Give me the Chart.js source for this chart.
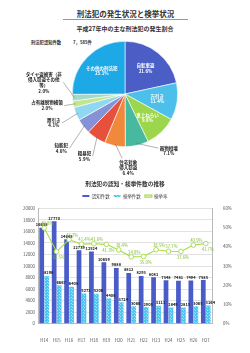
<!DOCTYPE html>
<html lang="ja">
<head>
<meta charset="utf-8">
<script src="https://cdn.jsdelivr.net/npm/chart.js@4.4.1/dist/chart.umd.min.js"></script>
<style>
  body { margin: 0; width: 250px; height: 353px; background: #fff; position: relative; overflow: hidden;
         font-family: "Noto Sans CJK JP", "Noto Sans", sans-serif; color: #333; }
  .t { position: absolute; white-space: nowrap; }
  #mainTitle { left: 63px; width: 125px; top: 9px; text-align: center; font-size: 7.5px; font-weight: bold;
               border-bottom: 1.5px solid #999; line-height: 10px; padding-bottom: 0; }
  #subTitle { left: 0; width: 250px; top: 25px; text-align: center; font-size: 6px; font-weight: bold; line-height: 7px; }
  #total { left: 31px; top: 40px; font-size: 4.3px; font-weight: bold; line-height: 5px; }
  #total span { margin-left: 12px; }
  canvas { position: absolute; left: 0; }
  #pie { top: 0; }
  #trend { top: 175px; }
</style>
</head>
<body>
<div class="t" id="mainTitle">刑法犯の発生状況と検挙状況</div>
<div class="t" id="subTitle">平成27年中の主な刑法犯の発生割合</div>
<div class="t" id="total">刑法犯認知件数<span>7，585件</span></div>
<canvas id="pie" width="250" height="178"></canvas>
<canvas id="trend" width="250" height="178"></canvas>
<script>
const FONT = '"Noto Sans CJK JP", "Noto Sans", sans-serif';

// 発生割合（円グラフ）
const pieLabels = ['自転車盗', '万引き', '車上ねらい', '器物損壊', '住宅対象侵入窃盗', '粗暴犯', '知能犯', '置引き', '占有離脱物横領', 'タイヤ盗被害（非侵入窃盗その他等）', 'その他の刑法犯'];
const pieValues = [21.6, 11.4, 9.8, 7.1, 6.4, 5.9, 4.6, 4.1, 2.0, 2.0, 25.1];
const pieColors = ['#4b5ec6', '#4cc0ea', '#9bd64b', '#47b99e', '#f0893b', '#e5513b', '#8593d6', '#90d8f1', '#c2e68e', '#a2dac7', '#1ca9e6'];

// 認知・検挙件数の推移
const years = ['H14', 'H15', 'H16', 'H17', 'H18', 'H19', 'H20', 'H21', 'H22', 'H23', 'H24', 'H25', 'H26', 'H27'];
const recognized = [16658, 17770, 14648, 12739, 12524, 10659, 9688, 8812, 8293, 8081, 7548, 7481, 7494, 7585];
const arrested = [8296, 6667, 6408, 5272, 5206, 4406, 3724, 3066, 2905, 3111, 2849, 2813, 3065, 3164];
const arrestRate = [49.8, 37.5, 43.7, 41.4, 41.6, 41.3, 38.4, 34.8, 35.0, 38.5, 37.7, 37.6, 40.9, 41.7];
const countTicks = { min: 0, max: 20000, step: 2000 };
const rateTicks = { min: 0, max: 60, step: 10 };

// 円グラフのラベル表示用（改行位置）
const pieText = [
  ['自転車盗'], ['万引き'], ['車上ねらい'], ['器物損壊'], ['住宅対象', '侵入窃盗'], ['粗暴犯'], ['知能犯'],
  ['置引き'], ['占有離脱物横領'], ['タイヤ盗被害（非', '侵入窃盗その他', '等）'], ['その他の刑法犯']
];
// 外側ラベルの位置（半径に対する倍率）と引出線の接続側
const outsidePos = {
  3: [0.83, 1.08, 'l'],
  4: [0.06, 1.40, 't'],
  5: [-0.77, 1.18, 'r'],
  6: [-1.21, 1.03, 'r'],
  7: [-1.35, 0.55, 'r'],
  8: [-1.48, 0.22, 'r'],
  9: [-1.54, -0.22, 'r']
};

const pieLabelPlugin = {
  id: 'pieLabels',
  afterDatasetsDraw(chart) {
    const ctx = chart.ctx;
    const lh = 5.6;
    ctx.save();
    ctx.font = 'bold 4.5px ' + FONT;
    ctx.textAlign = 'center';
    ctx.textBaseline = 'middle';
    chart.getDatasetMeta(0).data.forEach((arc, i) => {
      const p = arc.getProps(['x', 'y', 'startAngle', 'endAngle', 'outerRadius'], true);
      const mid = (p.startAngle + p.endAngle) / 2;
      const lines = pieText[i].concat(pieValues[i].toFixed(1) + '%');
      const op = outsidePos[i];
      let cx, cy;
      if (!op) {
        cx = p.x + Math.cos(mid) * p.outerRadius * 0.62;
        cy = p.y + Math.sin(mid) * p.outerRadius * 0.62;
        ctx.fillStyle = '#fff';
      } else {
        cx = p.x + op[0] * p.outerRadius;
        cy = p.y + op[1] * p.outerRadius;
        const w = Math.max(...lines.map(s => ctx.measureText(s).width));
        const h = lines.length * lh;
        let ex = cx, ey = cy;
        if (op[2] === 'r') { ex = cx + w / 2 + 1.5; }
        if (op[2] === 'l') { ex = cx - w / 2 - 1.5; ey = cy - lh / 2; }
        if (op[2] === 't') { ey = cy - h / 2 - 1; ex = cx - 6; }
        ctx.strokeStyle = '#666';
        ctx.lineWidth = 0.5;
        ctx.beginPath();
        ctx.moveTo(p.x + Math.cos(mid) * (p.outerRadius - 2), p.y + Math.sin(mid) * (p.outerRadius - 2));
        ctx.lineTo(ex, ey);
        ctx.stroke();
        ctx.fillStyle = '#222';
      }
      const y0 = cy - (lines.length - 1) * lh / 2;
      lines.forEach((s, k) => ctx.fillText(s, cx, y0 + k * lh));
    });
    ctx.restore();
  }
};

new Chart(document.getElementById('pie'), {
  type: 'pie',
  data: {
    labels: pieLabels,
    datasets: [{ data: pieValues, backgroundColor: pieColors, borderColor: '#fff', borderWidth: 0.6 }]
  },
  options: {
    responsive: false,
    animation: false,
    layout: { padding: { left: 72, right: 72, top: 41, bottom: 31 } },
    plugins: { legend: { display: false }, tooltip: { enabled: false } }
  },
  plugins: [pieLabelPlugin]
});

// 検挙件数の網掛け
const pc = document.createElement('canvas');
pc.width = 3; pc.height = 3;
const px = pc.getContext('2d');
px.fillStyle = '#4fc6ef';
px.fillRect(0, 0, 3, 3);
px.fillStyle = '#9fe2f8';
px.fillRect(0, 0, 1, 1);
px.fillRect(2, 2, 1, 1);
const hatch = px.createPattern(pc, 'repeat');

// 上下どちらに率を表示するか
const rateLabelSide = ['a', 'b', 'a', 'a', 'a', 'b', 'a', 'a', 'b', 'a', 'a', 'b', 'a', 'b'];

const valueLabelPlugin = {
  id: 'valueLabels',
  afterDatasetsDraw(chart) {
    const ctx = chart.ctx;
    ctx.save();
    ctx.textAlign = 'center';
    ctx.textBaseline = 'bottom';
    ctx.font = 'bold 4px ' + FONT;
    ctx.fillStyle = '#222';
    [0, 1].forEach(d => {
      chart.getDatasetMeta(d).data.forEach((bar, i) => {
        const v = chart.data.datasets[d].data[i];
        ctx.fillText(String(v), bar.x + (d === 1 ? 2 : 0), bar.y - 1);
      });
    });
    ctx.fillStyle = '#7fbf2a';
    ctx.font = '4.3px ' + FONT;
    chart.getDatasetMeta(2).data.forEach((pt, i) => {
      const s = arrestRate[i].toFixed(1) + '%';
      if (rateLabelSide[i] === 'a') ctx.fillText(s, pt.x + 3, pt.y - 2.5);
      else ctx.fillText(s, pt.x + 2, pt.y + 8);
    });
    ctx.restore();
  }
};

const tickFont = { size: 4.3, family: FONT };

new Chart(document.getElementById('trend'), {
  type: 'bar',
  data: {
    labels: years,
    datasets: [
      { label: '認知件数', data: recognized, backgroundColor: '#4a5cc8', yAxisID: 'y', order: 2,
        categoryPercentage: 0.8, barPercentage: 0.95 },
      { label: '検挙件数', data: arrested, backgroundColor: hatch, yAxisID: 'y', order: 2,
        categoryPercentage: 0.8, barPercentage: 0.95 },
      { type: 'line', label: '検挙率', data: arrestRate, yAxisID: 'y1', order: 1,
        borderColor: '#a6dc45', backgroundColor: '#fff', borderWidth: 1.1,
        pointRadius: 2.3, pointBackgroundColor: '#fff', pointBorderColor: '#a6dc45', pointBorderWidth: 0.9 }
    ]
  },
  options: {
    responsive: false,
    animation: false,
    layout: { padding: { top: 2, bottom: 4, left: 0, right: 0 } },
    plugins: {
      title: { display: true, text: '刑法犯の認知・検挙件数の推移', color: '#333',
               font: { size: 5.7, weight: 'bold', family: FONT }, padding: { top: 3, bottom: 3 } },
      legend: { labels: { boxWidth: 7, boxHeight: 2, padding: 4, color: '#444', font: { size: 4.5, family: FONT },
                          sort: (a, b) => a.datasetIndex - b.datasetIndex } },
      tooltip: { enabled: false }
    },
    scales: {
      x: {
        grid: { display: false },
        border: { color: '#bbb' },
        ticks: { font: tickFont, color: '#555', padding: 6, maxRotation: 0, minRotation: 0, autoSkip: false }
      },
      y: {
        min: countTicks.min, max: countTicks.max,
        ticks: { stepSize: countTicks.step, font: tickFont, color: '#555', padding: 3, callback: v => String(v) },
        grid: { color: '#e2e2e2', drawTicks: false },
        border: { color: '#bbb' },
        afterFit(s) { s.width = 38; }
      },
      y1: {
        position: 'right',
        min: rateTicks.min, max: rateTicks.max,
        ticks: { stepSize: rateTicks.step, font: tickFont, color: '#555', padding: 3, callback: v => v + '%' },
        grid: { display: false },
        border: { color: '#bbb' },
        afterFit(s) { s.width = 38; }
      }
    }
  },
  plugins: [valueLabelPlugin]
});
</script>
</body>
</html>
